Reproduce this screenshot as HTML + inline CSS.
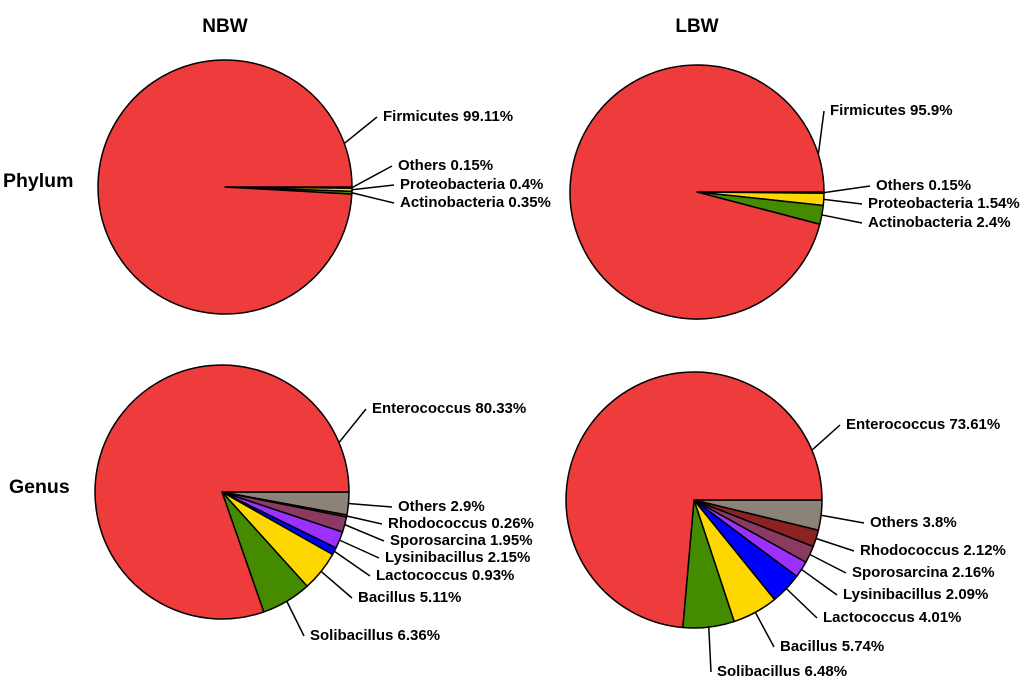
<!DOCTYPE html>
<html><head><meta charset="utf-8"><style>
body{margin:0;background:#fff}
svg{display:block;font-family:"Liberation Sans",Arial,sans-serif;font-weight:bold}
</style></head><body>
<svg id="c" width="1024" height="685" viewBox="0 0 1024 685">
<text x="225" y="32" font-size="19" text-anchor="middle">NBW</text>
<text x="697" y="32" font-size="19" text-anchor="middle">LBW</text>
<text x="3" y="187" font-size="19.5">Phylum</text>
<text x="9" y="493" font-size="19.5">Genus</text>
</svg>
<script>
const phylumNames=["Others","Proteobacteria","Actinobacteria","Firmicutes"];
const phylumNBW=[0.15,0.4,0.35,99.11];
const phylumLBW=[0.15,1.54,2.4,95.9];
const phylumColors=["#8b8378","#ffd700","#458b00","#ee3b3b"];
const genusNames=["Others","Rhodococcus","Sporosarcina","Lysinibacillus","Lactococcus","Bacillus","Solibacillus","Enterococcus"];
const genusNBW=[2.9,0.26,1.95,2.15,0.93,5.11,6.36,80.33];
const genusLBW=[3.8,2.12,2.16,2.09,4.01,5.74,6.48,73.61];
const genusColors=["#8b8378","#8b2323","#8b3a62","#9b30ff","#0000ff","#ffd700","#458b00","#ee3b3b"];
// label layout (text start positions)
const layNBWp=[[398,170],[400,189],[400,207],[383,121]];
const layLBWp=[[876,190],[868,208],[868,227],[830,115]];
const layNBWg=[[398,511],[388,528],[390,545],[385,562],[376,580],[358,602],[310,640],[372,413]];
const layLBWg=[[870,527],[860,555],[852,577],[843,599],[823,622],[780,651],[717,676],[846,429]];
const svg=document.getElementById('c');
const NS='http://www.w3.org/2000/svg';
function pie(cx,cy,r,names,vals,colors,lay,tag,bigAngle){
  const tot=vals.reduce((a,b)=>a+b,0);
  let a=0;
  vals.forEach((v,i)=>{
    const a0=a/tot*2*Math.PI, a1=(a+v)/tot*2*Math.PI; a+=v;
    const x0=cx+r*Math.cos(a0),y0=cy+r*Math.sin(a0),x1=cx+r*Math.cos(a1),y1=cy+r*Math.sin(a1);
    const p=document.createElementNS(NS,'path');
    p.setAttribute('d',`M${cx},${cy}L${x0},${y0}A${r},${r} 0 ${a1-a0>Math.PI?1:0} 1 ${x1},${y1}Z`);
    p.setAttribute('fill',colors[i]);p.setAttribute('stroke','#000');p.setAttribute('stroke-width','1.5');
    p.setAttribute('stroke-linejoin','round');
    
    
    svg.appendChild(p);
    let am=(a0+a1)/2;
    if(i===vals.length-1) am=bigAngle;
    const sx=cx+r*Math.cos(am),sy=cy+r*Math.sin(am);
    const [tx,ty]=lay[i];
    const l=document.createElementNS(NS,'polyline');
    l.setAttribute('points',`${sx},${sy} ${tx-6},${ty-4}`);
    l.setAttribute('stroke','#000');l.setAttribute('stroke-width','1.5');l.setAttribute('fill','none');
    
    
    svg.appendChild(l);
    const t=document.createElementNS(NS,'text');
    t.setAttribute('x',tx);t.setAttribute('y',ty);t.setAttribute('font-size','15');
    t.textContent=names[i]+' '+v+'%';
    
    
    svg.appendChild(t);
  });
}
pie(225,187,127,phylumNames,phylumNBW,phylumColors,layNBWp,'nbw-phylum',-0.35);
pie(697,192,127,phylumNames,phylumLBW,phylumColors,layLBWp,'lbw-phylum',-0.3);
pie(222,492,127,genusNames,genusNBW,genusColors,layNBWg,'nbw-genus',-0.4);
pie(694,500,128,genusNames,genusLBW,genusColors,layLBWg,'lbw-genus',-0.4);
</script>
</body></html>
